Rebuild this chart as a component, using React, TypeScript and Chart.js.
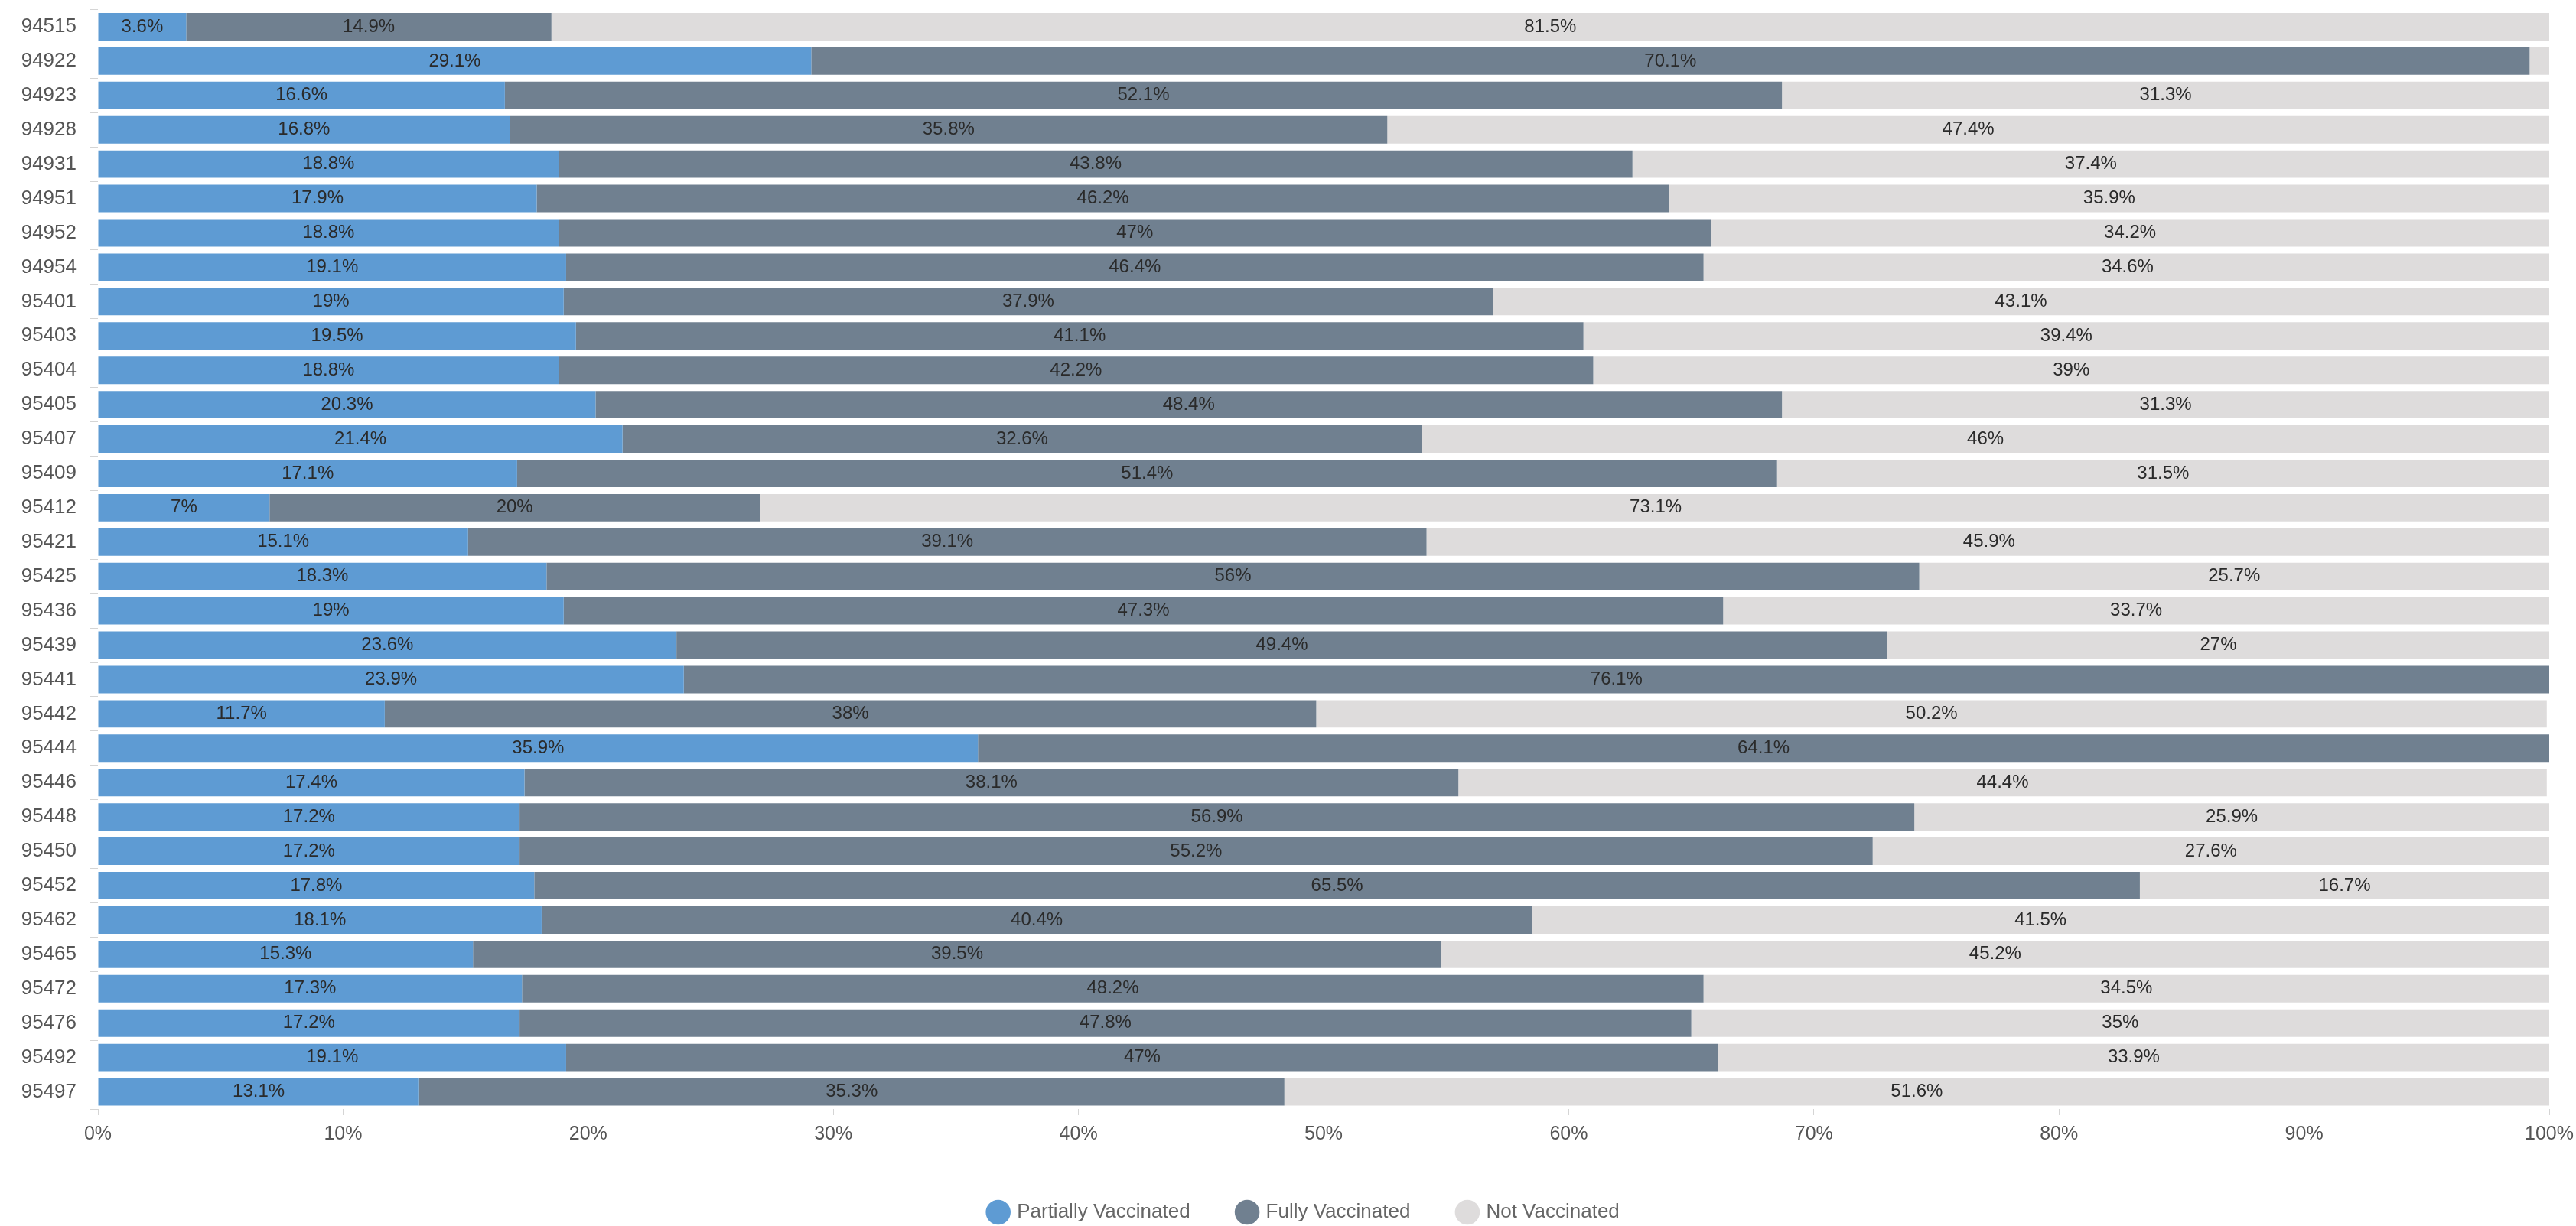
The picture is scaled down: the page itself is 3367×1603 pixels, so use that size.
import React, { useEffect, useRef } from 'react';
import { Chart, registerables } from 'chart.js';

Chart.register(...registerables);

const zipCodes = [
  '94515', '94922', '94923', '94928', '94931', '94951', '94952', '94954',
  '95401', '95403', '95404', '95405', '95407', '95409', '95412', '95421',
  '95425', '95436', '95439', '95441', '95442', '95444', '95446', '95448',
  '95450', '95452', '95462', '95465', '95472', '95476', '95492', '95497',
];

const partiallyVaccinated = [
  3.6, 29.1, 16.6, 16.8, 18.8, 17.9, 18.8, 19.1,
  19, 19.5, 18.8, 20.3, 21.4, 17.1, 7, 15.1,
  18.3, 19, 23.6, 23.9, 11.7, 35.9, 17.4, 17.2,
  17.2, 17.8, 18.1, 15.3, 17.3, 17.2, 19.1, 13.1,
];

const fullyVaccinated = [
  14.9, 70.1, 52.1, 35.8, 43.8, 46.2, 47, 46.4,
  37.9, 41.1, 42.2, 48.4, 32.6, 51.4, 20, 39.1,
  56, 47.3, 49.4, 76.1, 38, 64.1, 38.1, 56.9,
  55.2, 65.5, 40.4, 39.5, 48.2, 47.8, 47, 35.3,
];

const notVaccinated = [
  81.5, 0.8, 31.3, 47.4, 37.4, 35.9, 34.2, 34.6,
  43.1, 39.4, 39, 31.3, 46, 31.5, 73.1, 45.9,
  25.7, 33.7, 27, 0, 50.2, 0, 44.4, 25.9,
  27.6, 16.7, 41.5, 45.2, 34.5, 35, 33.9, 51.6,
];

const seriesNames = ['Partially Vaccinated', 'Fully Vaccinated', 'Not Vaccinated'];
const seriesColors = ['#5E9BD3', '#708090', '#DEDCDC'];

const FONT = '"Liberation Sans", Arial, Helvetica, sans-serif';

const barValueLabels = {
  id: 'barValueLabels',
  afterDatasetsDraw(chart: any) {
    const ctx = chart.ctx;
    ctx.save();
    ctx.font = `24px ${FONT}`;
    ctx.fillStyle = '#2a2a2a';
    ctx.textAlign = 'center';
    ctx.textBaseline = 'middle';
    chart.data.datasets.forEach((ds: any, di: number) => {
      const meta = chart.getDatasetMeta(di);
      meta.data.forEach((bar: any, i: number) => {
        const v = ds.data[i];
        if (v == null || v < 2) return;
        const cx = (bar.x + bar.base) / 2;
        ctx.fillText(`${v}%`, cx, bar.y);
      });
    });
    ctx.restore();
  },
};

const legendShift = {
  id: 'legendShift',
  afterLayout(chart: any) {
    const lg = chart.legend;
    if (lg) {
      lg.left += 25;
      lg.right += 25;
      lg.top += 5;
      lg.bottom += 5;
    }
  },
};

export default function App() {
  const canvasRef = useRef<HTMLCanvasElement | null>(null);

  useEffect(() => {
    document.body.style.margin = '0';
    const canvas = canvasRef.current;
    if (!canvas) return;
    const chart = new Chart(canvas, {
      type: 'bar',
      data: {
        labels: zipCodes,
        datasets: [
          { label: seriesNames[0], data: partiallyVaccinated, backgroundColor: seriesColors[0], borderWidth: 0 },
          { label: seriesNames[1], data: fullyVaccinated, backgroundColor: seriesColors[1], borderWidth: 0 },
          { label: seriesNames[2], data: notVaccinated, backgroundColor: seriesColors[2], borderWidth: 0 },
        ],
      },
      options: {
        indexAxis: 'y',
        responsive: true,
        maintainAspectRatio: false,
        animation: false,
        font: { family: FONT },
        layout: { padding: { left: 28, right: 35, top: 12.5, bottom: 0 } },
        datasets: { bar: { barPercentage: 1, categoryPercentage: 0.8 } },
        scales: {
          x: {
            stacked: true,
            min: 0,
            max: 100,
            ticks: {
              stepSize: 10,
              callback: (v: any) => `${v}%`,
              font: { size: 25, family: FONT },
              color: '#555',
              padding: 10,
              maxRotation: 0,
            },
            grid: { drawOnChartArea: false, tickLength: 8, color: '#d5d5d5' },
            border: { display: false },
            afterFit: (s: any) => {
              s.height = 54;
              s.paddingLeft = 0;
              s.paddingRight = 0;
            },
          },
          y: {
            stacked: true,
            ticks: { font: { size: 26, family: FONT }, color: '#555', padding: 18 },
            grid: { drawOnChartArea: false, tickLength: 10, color: '#d5d5d5' },
            border: { display: false },
            afterFit: (s: any) => {
              s.width = 100;
              s.paddingTop = 0;
              s.paddingBottom = 0;
            },
          },
        },
        plugins: {
          legend: {
            position: 'bottom',
            labels: {
              usePointStyle: true,
              pointStyle: 'circle',
              boxWidth: 23,
              boxHeight: 23,
              padding: 63,
              color: '#666',
              font: { size: 26, family: FONT },
            },
          },
          tooltip: { enabled: false },
        },
      },
      plugins: [barValueLabels, legendShift],
    } as any);
    return () => chart.destroy();
  }, []);

  return (
    <div style={{ width: '3367px', height: '1603px', position: 'relative', background: '#fff' }}>
      <canvas ref={canvasRef} />
    </div>
  );
}
